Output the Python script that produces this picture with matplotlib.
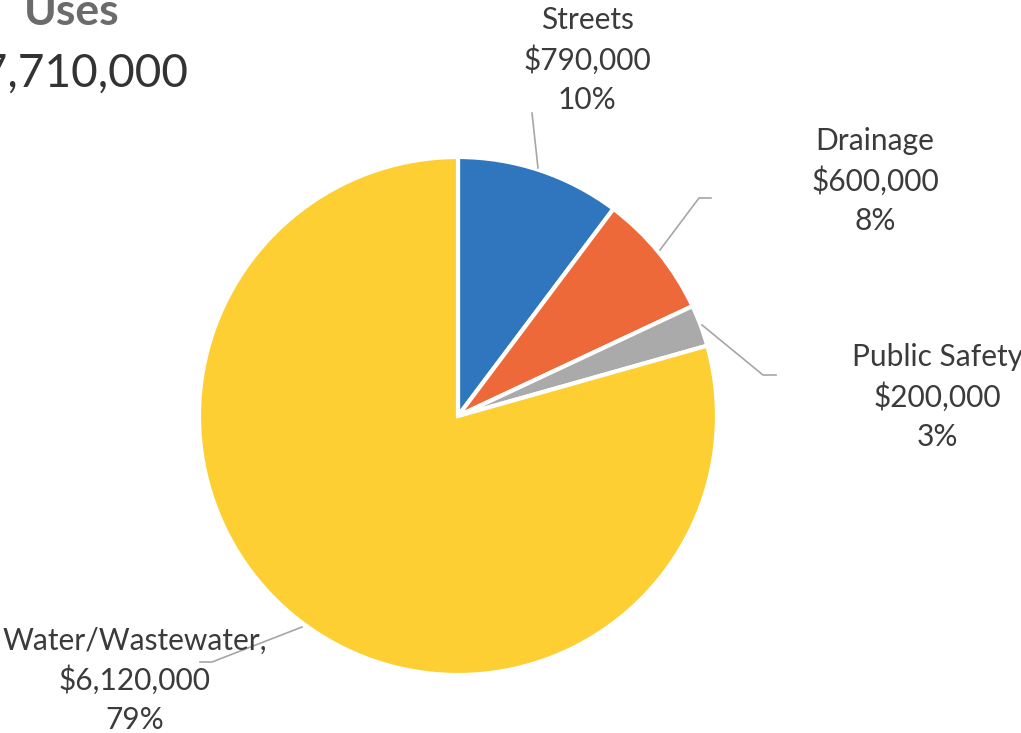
import matplotlib.pyplot as plt

# Capital uses by category
categories = ["Streets", "Drainage", "Public Safety", "Water/Wastewater"]
amounts = [790000, 600000, 200000, 6120000]
colors = ["#2F76BE", "#EE6939", "#AAAAAA", "#FDCF33"]
separators = ["", "", "", ","]

total = sum(amounts)

W, H = 1021, 733
plt.rcParams["font.family"] = ["Lato", "DejaVu Sans"]

fig = plt.figure(figsize=(W / 100, H / 100), dpi=100)
ax = fig.add_axes([0, 0, 1, 1])


def Y(y):
    # pixel rows counted from the top
    return H - y


ax.pie(amounts, colors=colors, startangle=90, counterclock=False,
       center=(458, Y(416)), radius=259, frame=True,
       wedgeprops=dict(edgecolor="white", linewidth=3))
ax.set_xlim(0, W)
ax.set_ylim(0, H)
ax.set_aspect("equal")
ax.axis("off")

# label positions and leader lines
label_pos = [(587, 60), (875, 181), (937, 397), (135, 680)]
leaders = [
    [(538, 168), (532, 113)],
    [(660, 250), (699, 198), (711, 198)],
    [(702, 325), (763, 375), (776, 375)],
    [(302, 627), (212, 662), (200, 662)],
]

for name, amt, sep, (lx, ly), pts in zip(categories, amounts, separators,
                                          label_pos, leaders):
    xs = [p[0] for p in pts]
    ys = [Y(p[1]) for p in pts]
    ax.plot(xs, ys, color="#A6A6A6", linewidth=1.2, zorder=1)
    pct = round(amt / total * 100)
    ax.text(lx, Y(ly), f"{name}{sep}\n${amt:,}\n{pct}%", ha="center",
            va="center", multialignment="center", fontsize=21.5,
            color="#3B3B3B", linespacing=1.45, zorder=3)

ax.text(72, Y(12), "Uses", ha="center", va="center", fontsize=32,
        fontweight="bold", color="#6B6B6B")
ax.text(189, Y(72), f"${total:,}", ha="right", va="center", fontsize=33,
        color="#333333")

fig.savefig("out.png", dpi=100, facecolor="white")
